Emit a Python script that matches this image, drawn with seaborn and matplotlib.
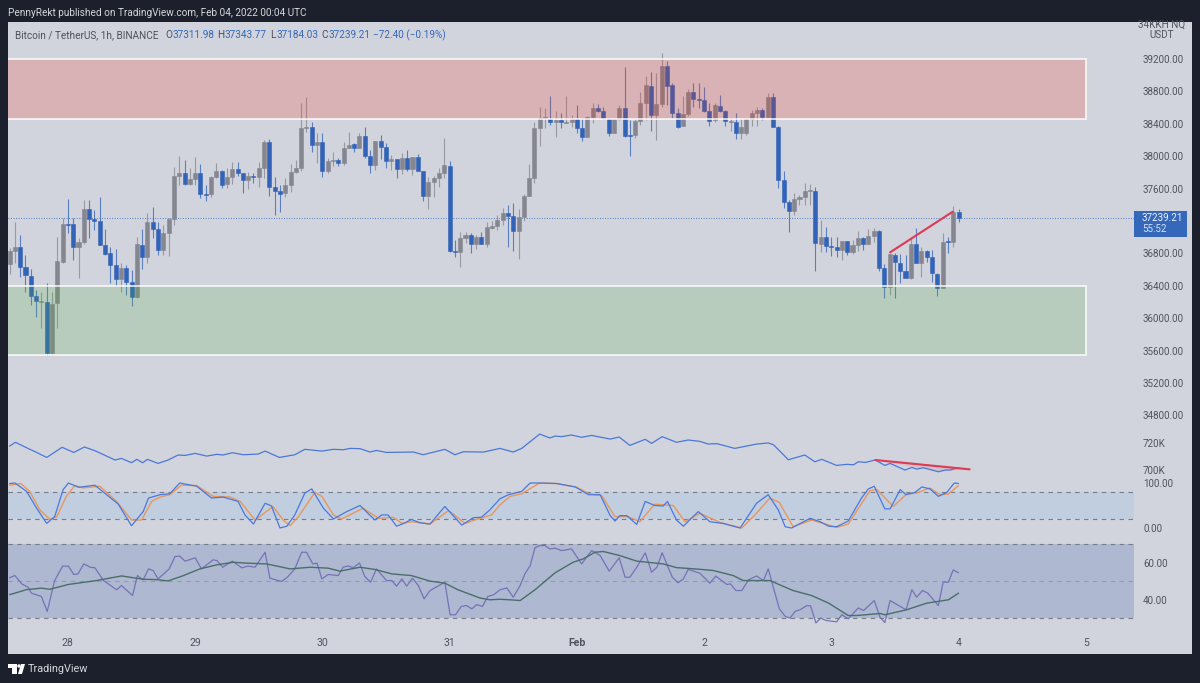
#BTCUSDT 1h chart with OBV, stoch rsi and rsi panes
import numpy as np
import pandas as pd
import matplotlib
matplotlib.use('Agg')
import matplotlib.pyplot as plt
import seaborn as sns
from matplotlib.colors import to_rgba
from matplotlib.patches import Rectangle, Polygon, Circle

# candles, one per hour, first one is 11 hours before Jan 28 00:00
opens = [36668,36829,36878,36631,36520,36273,36199,36199,35569,36187,
         36693,37162,37162,36878,36940,37348,37224,37199,36903,36804,
         36656,36483,36619,36446,36261,36903,36755,37187,37100,36841,
         37051,37224,37755,37792,37656,37718,37792,37533,37533,37743,
         37817,37656,37743,37842,37792,37706,37755,37743,37854,38175,
         37619,37570,37545,37644,37804,37854,38348,38360,38138,38175,
         37817,37940,37953,37916,38101,38150,38101,38249,38002,37891,
         38187,38113,37940,37965,37842,37977,37842,37990,37817,37508,
         37681,37730,37792,37879,36829,36816,36989,37026,36915,37002,
         36915,37113,37138,37212,37298,37261,37076,37249,37508,37730,
         38348,38471,38459,38422,38447,38415,38422,38459,38348,38237,
         38484,38595,38558,38459,38286,38459,38595,38261,38261,38434,
         38657,38867,38508,38644,39114,38879,38533,38373,38521,38792,
         38706,38694,38558,38447,38620,38558,38422,38422,38286,38286,
         38459,38533,38570,38484,38731,38360,37706,37434,37323,37471,
         37496,37570,37570,36915,37002,36890,36878,36841,36952,36816,
         36903,36989,36915,37014,37076,36619,36384,36779,36681,36582,
         36495,36915,36681,36829,36755,36545,36372,36952,36940,37311.98]
highs = [36866,37187,37026,36779,36606,36347,36322,36434,36322,37002,
         37236,37471,37236,36989,37459,37459,37335,37496,37100,36878,
         36853,36681,36656,36594,37002,37100,37298,37372,37187,37150,
         37236,37866,38002,37953,37854,37990,37903,37644,37755,37916,
         37829,37854,37928,37928,37792,37804,37792,37928,38200,38212,
         37743,37644,37730,37903,37953,38657,38731,38422,38286,38286,
         37977,38051,37977,38175,38298,38163,38286,38360,38076,38187,
         38261,38163,38014,37965,38039,38076,37990,38027,37817,37743,
         37755,37854,38224,37940,36965,37063,37063,37051,37026,37063,
         37187,37199,37273,37360,37397,37422,37348,37533,37903,38422,
         38607,38595,38743,38558,38533,38743,38508,38632,38471,38496,
         38657,38644,38607,38471,38459,38632,39101,38447,38459,38792,
         38990,39039,39027,39274,39175,38904,38595,38743,38830,38904,
         38904,38854,38657,38657,38755,38570,38471,38533,38459,38471,
         38570,38607,38595,38780,38780,38373,37817,37459,37545,37520,
         37669,37656,37619,37212,37125,37002,37002,36952,36952,36965,
         37076,37002,37100,37113,37088,36668,36804,36804,36792,36779,
         37002,37113,36878,36841,36841,36557,37051,37002,37385,37343.77]
lows = [36545,36681,36508,36322,36162,36014,35878,35544,35544,35878,
        36681,37051,36718,36495,36915,36989,37088,36903,36779,36434,
        36397,36322,36285,36150,36248,36606,36681,36989,36779,36779,
        36767,37150,37644,37644,37644,37644,37483,37446,37496,37730,
        37607,37607,37656,37755,37545,37595,37669,37619,37730,37508,
        37273,37310,37496,37557,37792,37817,38298,38051,37916,37743,
        37792,37879,37879,37891,38101,38051,38101,37977,37792,37829,
        37965,37854,37829,37730,37780,37817,37767,37817,37446,37348,
        37496,37619,37730,36816,36755,36631,36928,36804,36853,36915,
        36878,37100,37088,37150,36878,36829,36730,37199,37508,37669,
        38126,38348,38385,38237,38348,38410,38360,38286,38187,38237,
        38410,38545,38459,38249,38286,38447,38237,38002,38224,38385,
        38447,38311,38200,38607,38632,38471,38348,38373,38496,38607,
        38595,38545,38373,38422,38545,38373,38311,38212,38212,38261,
        38373,38373,38447,38484,38360,37607,37360,37063,37273,37397,
        37397,37397,36582,36816,36816,36767,36755,36718,36779,36792,
        36829,36841,36915,36940,36582,36248,36285,36248,36434,36495,
        36483,36681,36508,36693,36446,36273,36372,36804,36878,37184.03]
closes = [36829,36878,36631,36532,36273,36211,36211,35569,36174,36705,
          37162,37150,36878,36940,37348,37224,37199,36903,36792,36656,
          36483,36619,36446,36261,36915,36755,37187,37100,36841,37051,
          37224,37755,37792,37656,37718,37792,37533,37520,37743,37817,
          37644,37743,37842,37792,37706,37755,37743,37854,38175,37619,
          37570,37533,37644,37804,37854,38348,38360,38138,38175,37817,
          37940,37953,37916,38101,38138,38101,38249,38002,37891,38187,
          38113,37940,37965,37842,37977,37842,37990,37817,37508,37681,
          37730,37792,37891,36829,36816,36989,37026,36915,37002,36915,
          37125,37138,37212,37298,37261,37076,37249,37508,37730,38348,
          38471,38484,38422,38447,38422,38422,38459,38348,38237,38484,
          38595,38558,38471,38286,38459,38595,38249,38249,38434,38657,
          38879,38508,38644,39114,38867,38533,38360,38521,38792,38706,
          38694,38558,38434,38632,38558,38434,38434,38286,38360,38459,
          38533,38570,38484,38731,38360,37706,37434,37323,37471,37496,
          37570,37582,36928,37002,36890,36878,36841,36952,36816,36903,
          36989,36915,37014,37076,36619,36384,36792,36693,36582,36495,
          36915,36681,36829,36755,36557,36372,36940,36940,37310,37239.21]

# zones and drawn trend lines
supply_zone = [38463, 39200]
demand_zone = [35545, 36400]
zone_end_hour = 192
price_trend_hours = [155.1, 166.9]
price_trend_values = [36813, 37314]
obv_trend_hours = [152.3, 170.1]
obv_trend_values = [707.4, 700.5]
obv_wedge_hours = [152.3, 170.1, 164.2]
obv_wedge_values = [707.4, 700.5, 698.7]

# on balance volume, in thousands
obv_hours = [-11,-9.9,-7.8,-5.9,-4,-1.1,1.1,3.1,5.1,8.9,10.1,12,13,14.1,15,17,18.9,20.8,22.1,24,
             26.2,28.1,29.3,31,33.1,35.9,37.2,39.9,42.8,44.7,46,47.9,50.1,52,53.2,55.1,57,58.2,60.1,65.2,
             67,71.1,73,74.6,78.4,81.5,84,85.6,87.2,89,90.9,91.9,93.1,95,96.9,98.8,102.3,104,106,108.9,
             110.1,112.1,114.8,117,119.2,120.8,122.4,125.8,129.9,132.1,133.1,135.9,139,140.9,142.2,145,146.9,148.2,149.1,150.4,
             152.3,154.1,155.1,157.9,159.2,160.1,161.4,164.2,165.5,166.4,168]
obv_values = [717.7,720.5,716.5,713,709.3,716.8,713,717,714.3,707.4,708.6,705.4,707.9,705.4,707.9,704.9,707.4,711.1,710.8,712.3,
              710.3,711.6,711.1,712.8,711.3,711.8,714,709.3,711.3,715.3,714.8,714,715.3,715,716,715.8,713.3,714.5,713,713.3,
              711.3,715.3,711.3,713.5,713.3,716,713.3,716,721,726.6,723.7,725.1,724.7,725.9,724.2,725.6,722.9,724.4,718.2,722.7,
              719.7,724.7,720.5,722.2,721.2,719.2,719.5,716,719.2,720,718.7,707.6,711.1,706.1,707.9,703.4,704.2,703.9,706.1,705.6,
              707.4,703.4,704.9,700,701.9,700.7,701.7,698.7,700,700,701.7]

# stochastic rsi
stoch_k_hours = [-11,-10,-7.8,-5.9,-4,-2.5,-0.9,0.1,2,5.1,7.3,9.5,12,14.2,15.2,17.4,19.2,21.1,24.3,27.1,
                 29.3,32.1,33.4,35,37.2,38.4,40,41.3,42.8,44.7,46,48.2,50.1,52.6,55.1,57.9,59.2,60.4,62,63.3,
                 64.8,66.4,68.3,71.1,74.3,76.5,78,79.6,81.5,83.1,85.6,87.2,89,92.2,95.7,98.2,100.4,102.3,103.2,104.1,
                 105.4,107.3,108.9,110.7,112.3,113.1,114.8,116.1,118.9,121.1,123.6,126.8,129.9,132.1,134,135.3,136.5,140,141.9,143.5,
                 145,147.2,149.7,151,152.1,154.1,155.1,157,158.1,159.8,161.1,162.6,164.2,165.8,167.2,168]
stoch_k_values = [98.8,100,81.5,44,10.3,25.3,85.3,100,90.5,95,74,53,5,36.5,66.5,74,76,100,92.8,66.5,
                  68.8,59,29,8.8,55,49,0,4,29,77.8,86.8,44,20,36.5,50,17.8,29,29,4,10,
                  19,11.8,8.8,47.8,6.5,23,23.8,40.3,65,74,81.5,100,100,98.8,91.3,74,74,27.5,15.5,27.5,
                  27.5,8,59,50,49,59,17.8,4,36.5,14,10,0,55,74,40.3,2.8,0,21.5,14,4,
                  2.8,15.5,66.5,86.8,92.8,42.5,42.5,85.3,74,79.3,91.3,86.8,70.3,79.3,100,98.8]
stoch_d_hours = [-11,-8.9,-7.2,-5.3,-3.4,-2.1,-0.3,1.3,2.9,6,9.2,12,13.9,15.8,17.4,19.2,21.4,24.3,27.4,30.6,
                 32.5,35.3,38.7,40.6,41.9,43.5,46.6,47.9,50.1,51.6,55.7,58.6,61.4,63,64.8,68.3,71.8,74.9,77.7,79.9,
                 81.5,83.4,85.6,89,92.2,96,98.2,100.7,103.2,105.7,107.9,110.7,114.2,116.4,119.2,123,127.1,129.6,132.4,134.2,
                 136.8,140.3,145,147.2,151.3,152.6,155.7,158.2,160.1,162.6,164.5,166.1,168]
stoch_d_values = [95,98.8,81.5,40.3,19.3,25.3,70.3,94.3,89,92.8,59,17.8,17.8,59,68.8,74,95,94.3,70.3,68.8,
                  59,17.8,47.8,17.8,5,25.3,79.3,70.3,29,20,44,21.5,23.8,10.3,14,8.8,38.8,10.3,21.5,29,
                  51.5,70.3,76.3,100,98.8,90.5,76.3,71.8,25.3,25.3,14,53,50,14,32.8,12.5,0,29,66.5,56.8,
                  2.8,17.8,1.3,8.8,83,85.3,47.8,75.5,77.8,89,74,75.5,94.3]

# rsi and its moving average
rsi_hours = [-11,-10,-8.7,-7.5,-6.9,-5,-3.9,-2.5,-1,0.1,1.1,1.9,3,4.2,5.1,6.7,9.2,10.1,12.2,13.1,
             14.2,15.2,16.1,17,19.1,20.2,21.1,22.1,24,25.2,27.4,28.1,29.2,31,32.8,34,35.3,37.2,38.1,40.3,
             41.4,42.8,44.1,45,46.2,47,47.9,49.1,51,51.9,52.9,53.8,55,56,57.1,58.2,60.1,61.1,62,63,
             63.9,65,66.1,67.2,68.3,71.1,72.1,73.1,74.2,75.2,76.2,77.1,78.2,79.2,80.3,81.5,82.8,84,85.3,86.2,
             87.2,88.1,89,90,90.9,91.9,93.1,95,96.9,98.8,100.4,102.1,104,105.1,106,107.3,108.9,110.1,111.1,112.1,
             114,115.1,116.1,117,119.2,121.1,122.2,124.3,125,126,127.1,128.4,129.9,131.2,132.1,134.2,135.3,136.2,137.2,138.1,
             139.4,140.1,141.1,142,143.1,145,146,147.2,149.1,150.1,152.1,153.2,154.1,155.1,158.1,159.2,160.1,161.2,162.2,164.2,
             165.1,166.1,167,168]
rsi_values = [52,53.2,48.7,46.9,43.7,41.9,33.8,50.5,58.3,58.3,53.8,54.1,59.5,57.7,57.4,50.5,45.5,47.8,42.4,53.2,
              50.9,56.8,55.9,51.4,56.8,63.5,63.7,61,62.8,56.8,61.7,61.3,57.7,61,57.4,58.3,57.7,65.8,51.8,50,
              52.3,56.8,65.8,65.8,59.5,59.9,51.4,53.8,53.2,57.7,58.4,57.4,60,52.7,49.6,56.8,50.5,50.5,47.5,51.4,
              47.5,51.8,47.8,40.6,45.1,49.6,32,32,36.5,37,35.2,37.5,36.5,41.9,42.8,45.5,46.5,41.5,47.8,54.1,
              58.6,68.2,69.4,69.4,67.6,68,66.7,67.6,59.5,66.7,64,55.6,62.8,52.3,52.3,57.7,65.5,55,57.7,65.5,
              52.3,49.3,51.4,56.5,54.5,49.1,52.9,48.4,48.7,45.1,45.1,50.9,53,50.5,56.8,35.2,31.2,30.2,33.9,34.7,
              37,36.8,27.6,30.2,28.9,28.2,32.1,29.8,35.7,34.3,39.7,30.7,27.8,39.7,34.7,45.6,41.5,45.1,43.7,37,
              49.6,49.6,56.3,54.7]
rsi_ma_hours = [-11,-10,-7.8,-5,-3.4,0.1,5.4,10.1,14.2,16.7,18.9,21.8,24.9,28.1,31.2,33.7,37.5,41.9,45.7,49.1,
                51.3,55.1,57.9,61.1,64.8,68.3,71.1,73.6,77.7,79.6,81.5,83.4,85.3,88.1,91.9,95.3,97.2,99.4,101,104.1,
                107.3,112.3,114.8,119.2,121.8,125.5,127.4,132.4,136.8,140.3,143.5,147.2,148.8,153.2,154.1,158.2,162,166.1,168]
rsi_ma_values = [42.9,43.7,45.6,46.4,45.8,48.4,50.5,53,51.2,51,50.3,53.2,56.8,59,60.4,59.9,59.5,56.8,57.7,57.2,
                 55.6,57.7,56.5,54.1,53.2,50.2,49.1,45.5,41.1,40.1,40.4,40.1,39.7,45.5,54.7,60.4,62.2,65.8,66.2,64,
                 61,59.5,57.5,56.6,55.9,53.2,50.5,50.5,45.1,42.4,38.3,31.6,31.6,32.7,32,34.7,38.3,40.1,43.7]

# tick labels
price_ticks = [34800,35200,35600,36000,36400,36800,37600,38000,38400,38800,39200]
day_hours = [0,24,48,72,96,120,144,168,192]
day_labels = ['28','29','30','31','Feb','2','3','4','5']

frame_col = '#1c202c'
panel_col = '#d1d4dc'
text_col = '#50535e'
up_col = '#85868f'
down_col = '#3263b8'
price_col = '#3567bb'
red_line = '#dd3a55'
label_size = 7.1
head_size = 7.2

sns.set_theme(style='white')
plt.rcParams['font.family'] = ['Roboto', 'DejaVu Sans']

fig = plt.figure(figsize=(12, 6.83), dpi=100, facecolor=frame_col)

# helper axes in pixels, holds the frame and the header
ax_px = fig.add_axes([0, 0, 1, 1], zorder=0)
ax_px.set_xlim(0, 1200)
ax_px.set_ylim(683, 0)
ax_px.axis('off')
panel = Rectangle((8, 22), 1184, 632, facecolor=panel_col, edgecolor='none')
ax_px.add_patch(panel)

def add_pane(top, bottom, ylim):
    ax = fig.add_axes([8/1200, 1 - bottom/683, 1126/1200, (bottom - top)/683], zorder=2)
    ax.patch.set_alpha(0)
    ax.set_xlim(-11.3, 201.1)
    ax.set_ylim(*ylim)
    sns.despine(ax=ax, left=True, bottom=True, right=True, top=True)
    ax.yaxis.tick_right()
    ax.tick_params(axis='y', length=0, pad=6.5, labelsize=label_size, labelcolor=text_col)
    ax.set_xticks([])
    return ax

ax_main = add_pane(22, 430, (34619, 39657))
ax_obv = add_pane(430, 478, (694.1, 729.6))
ax_stoch = add_pane(478, 538, (-22.2, 111.1))
ax_rsi = add_pane(538, 632, (22.7, 73.5))

# candles
candles = pd.DataFrame({'open': opens, 'high': highs, 'low': lows, 'close': closes})
candles['hour'] = np.arange(len(candles)) - 11
candles['col'] = np.where(candles['close'] >= candles['open'], up_col, down_col)
ax_main.vlines(candles['hour'], candles['low'], candles['high'], colors=candles['col'],
               linewidth=0.8, alpha=0.75, zorder=2)
ax_main.bar(candles['hour'], (candles['close'] - candles['open']).abs(),
            bottom=candles[['open', 'close']].min(axis=1), width=0.76, color=candles['col'],
            edgecolor=candles['col'], linewidth=0.4, zorder=3)

# zones sit on top of the candles
left = ax_main.get_xlim()[0] - 5
for zone, col in [(supply_zone, '#f52d19'), (demand_zone, '#50af41')]:
    ax_main.add_patch(Rectangle((left, zone[0]), zone_end_hour - left, zone[1] - zone[0],
                                facecolor=to_rgba(col, 0.2), edgecolor=(1, 1, 1, 0.8),
                                linewidth=1.3, zorder=4))

ax_main.axhline(closes[-1], color=price_col, alpha=0.8, linestyle=(0, (1, 1.6)), linewidth=0.7, zorder=1)
sns.lineplot(x=price_trend_hours, y=price_trend_values, ax=ax_main, color=red_line, linewidth=1.5, zorder=5)
ax_main.set_yticks(price_ticks)
ax_main.set_yticklabels(['%.2f' % p for p in price_ticks])

# obv pane
sns.lineplot(x=obv_hours, y=obv_values, ax=ax_obv, color='#4a78d8', linewidth=0.9, sort=False)
ax_obv.add_patch(Polygon(np.column_stack([obv_wedge_hours, obv_wedge_values]),
                         facecolor=to_rgba(red_line, 0.12), edgecolor='none'))
sns.lineplot(x=obv_trend_hours, y=obv_trend_values, ax=ax_obv, color=red_line, linewidth=1.5)
ax_obv.set_yticks([700, 720])
ax_obv.set_yticklabels(['700K', '720K'])

# stoch pane
ax_stoch.axhspan(20, 80, color='#bccde2', alpha=0.75, linewidth=0, zorder=0)
for level in [20, 80]:
    ax_stoch.axhline(level, color='#787b88', linestyle=(0, (4, 4)), linewidth=0.8, zorder=1)
sns.lineplot(x=stoch_d_hours, y=stoch_d_values, ax=ax_stoch, color='#e8975a', linewidth=1.0, sort=False)
sns.lineplot(x=stoch_k_hours, y=stoch_k_values, ax=ax_stoch, color='#4a78de', linewidth=0.9, sort=False)
ax_stoch.set_yticks([0, 100])
ax_stoch.set_yticklabels(['0.00', '100.00'])

# rsi pane
ax_rsi.axhspan(30, 70, color='#aeb8d1', linewidth=0, zorder=0)
for level, col in [(30, '#787b88'), (50, '#959ab0'), (70, '#787b88')]:
    ax_rsi.axhline(level, color=col, linestyle=(0, (4, 4)), linewidth=0.8, zorder=1)
sns.lineplot(x=rsi_hours, y=rsi_values, ax=ax_rsi, color='#7672b8', linewidth=0.9, sort=False)
sns.lineplot(x=rsi_ma_hours, y=rsi_ma_values, ax=ax_rsi, color='#4a6e6a', linewidth=1.0, sort=False)
ax_rsi.set_yticks([40, 60])
ax_rsi.set_yticklabels(['40.00', '60.00'])
ax_rsi.set_xticks(day_hours)
ax_rsi.set_xticklabels(day_labels)
ax_rsi.tick_params(axis='x', length=0, pad=4.5, labelsize=7.6, labelcolor=text_col)
ax_rsi.get_xticklabels()[4].set_fontweight('bold')

for ax in [ax_main, ax_obv, ax_stoch, ax_rsi]:
    ax.set_xlabel('')
    ax.set_ylabel('')

# header and legend
ax_px.text(8, 13, 'PennyRekt published on TradingView.com, Feb 04, 2022 00:04 UTC',
           color='#d6d8de', fontsize=head_size, va='center')
ax_px.text(15, 35, 'Bitcoin / TetherUS, 1h, BINANCE', color='#4c505c', fontsize=head_size, va='center')
for x, letter, value in [(165, 'O', '37311.98'), (217, 'H', '37343.77'), (270, 'L', '37184.03'), (321, 'C', '37239.21')]:
    t = ax_px.text(x, 35, letter, color='#4c505c', fontsize=head_size, va='center')
    ax_px.annotate(value, xy=(1, 0.5), xycoords=t, xytext=(0.5, 0), textcoords='offset points',
                   color=price_col, fontsize=head_size, va='center')
ax_px.text(373, 35, '\u221272.40 (\u22120.19%)', color=price_col, fontsize=head_size, va='center')

# price scale extras
top_label = ax_px.text(1162, 24.5, '34KKH NQ', color=text_col, fontsize=label_size, ha='center', va='center')
top_label.set_clip_path(panel)
ax_px.text(1162, 35, 'USDT', color=text_col, fontsize=label_size, ha='center', va='center')
ax_px.add_patch(Rectangle((1134, 211), 53, 26, facecolor=price_col, edgecolor='none'))
ax_px.text(1142, 218, '37239.21', color='#eef2fa', fontsize=label_size, va='center')
ax_px.text(1142, 229.5, '55:52', color='#d5e0f5', fontsize=label_size, va='center')

# tradingview mark
ax_px.add_patch(Polygon([(8, 664), (17, 664), (17, 674), (12, 674), (12, 668), (8, 668)], facecolor='white', edgecolor='none'))
ax_px.add_patch(Circle((19, 666), 1.7, facecolor='white', edgecolor='none'))
ax_px.add_patch(Polygon([(18, 674), (21, 664), (25, 664), (22, 674)], facecolor='white', edgecolor='none'))
ax_px.text(28, 668.5, 'TradingView', color='#d6d8de', fontsize=7.8, va='center')

fig.savefig('out.png', dpi=100, facecolor=frame_col)
